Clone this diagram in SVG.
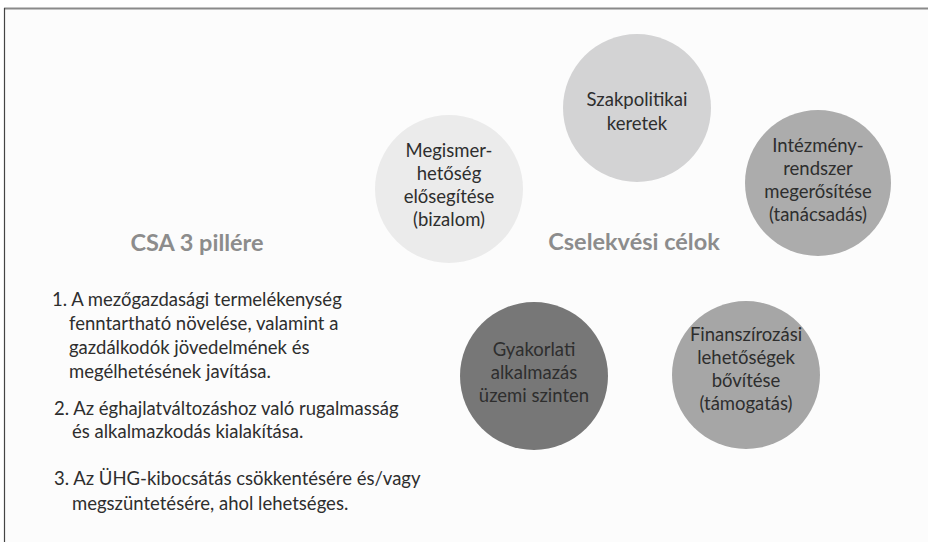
<svg xmlns="http://www.w3.org/2000/svg" width="928" height="542" viewBox="0 0 928 542">
  <style>
    .body { font-family: Lato, "Open Sans", "Noto Sans", sans-serif; font-size: 18.5px; fill: #2e2e2e; }
    .ctext { font-family: Lato, "Open Sans", "Noto Sans", sans-serif; font-size: 18.5px; fill: #2e2e2e; text-anchor: middle; }
    .title { font-family: Lato, "Open Sans", "Noto Sans", sans-serif; font-size: 23.5px; font-weight: bold; fill: #8c8c8c; text-anchor: middle; }
  </style>

  <!-- page and frame -->
  <rect x="0" y="0" width="928" height="542" fill="#ffffff"/>
  <rect x="4" y="8" width="924" height="534" fill="#fcfcfc"/>
  <line x1="4" y1="8.5" x2="928" y2="8.5" stroke="#8a8a8a" stroke-width="2"/>
  <line x1="4.5" y1="8" x2="4.5" y2="542" stroke="#444444" stroke-width="1.2"/>

  <!-- left column: the three pillars -->
  <g id="pillars">
    <text class="title" x="197" y="251">CSA 3 pillére</text>
    <text class="body" x="52" y="306">1. A mezőgazdasági termelékenység</text>
    <text class="body" x="69" y="330">fenntartható növelése, valamint a</text>
    <text class="body" x="69" y="354">gazdálkodók jövedelmének és</text>
    <text class="body" x="69" y="378">megélhetésének javítása.</text>
    <text class="body" x="54" y="415">2. Az éghajlatváltozáshoz való rugalmasság</text>
    <text class="body" x="72" y="438">és alkalmazkodás kialakítása.</text>
    <text class="body" x="54" y="485">3. Az ÜHG-kibocsátás csökkentésére és/vagy</text>
    <text class="body" x="72" y="510">megszüntetésére, ahol lehetséges.</text>
  </g>

  <!-- right column: action goals -->
  <text class="title" x="634" y="250">Cselekvési célok</text>

  <g id="connectors"/>

  <g id="megismerhetoseg">
    <circle cx="449" cy="189" r="74" fill="#ebebeb"/>
    <text class="ctext" x="449" y="157">Megismer-</text>
    <text class="ctext" x="449" y="180">hetőség</text>
    <text class="ctext" x="449" y="203">elősegítése</text>
    <text class="ctext" x="449" y="226">(bizalom)</text>
  </g>

  <g id="szakpolitika">
    <circle cx="637" cy="108" r="74" fill="#d3d3d4"/>
    <text class="ctext" x="637" y="106">Szakpolitikai</text>
    <text class="ctext" x="637" y="130">keretek</text>
  </g>

  <g id="intezmenyrendszer">
    <circle cx="818" cy="183" r="73" fill="#acacac"/>
    <text class="ctext" x="818" y="152">Intézmény-</text>
    <text class="ctext" x="818" y="175">rendszer</text>
    <text class="ctext" x="818" y="198">megerősítése</text>
    <text class="ctext" x="818" y="221">(tanácsadás)</text>
  </g>

  <g id="gyakorlati">
    <circle cx="534" cy="376" r="74" fill="#777777"/>
    <text class="ctext" x="534" y="356">Gyakorlati</text>
    <text class="ctext" x="534" y="379">alkalmazás</text>
    <text class="ctext" x="534" y="402">üzemi szinten</text>
  </g>

  <g id="finanszirozas">
    <circle cx="746" cy="375" r="74" fill="#a6a6a6"/>
    <text class="ctext" x="746" y="341">Finanszírozási</text>
    <text class="ctext" x="746" y="364">lehetőségek</text>
    <text class="ctext" x="746" y="387">bővítése</text>
    <text class="ctext" x="746" y="410">(támogatás)</text>
  </g>
</svg>
